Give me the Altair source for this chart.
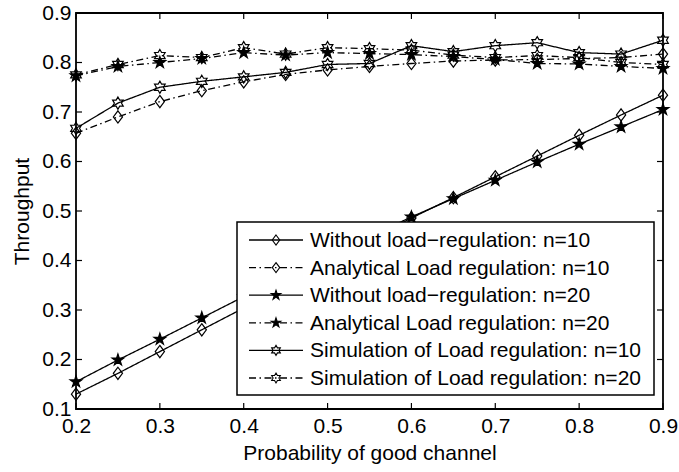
import altair as alt
import pandas as pd

# ---------------- data ----------------
x_vals = [0.20, 0.25, 0.30, 0.35, 0.40, 0.45, 0.50, 0.55, 0.60, 0.65, 0.70, 0.75, 0.80, 0.85, 0.90]

series_names = [
    "Without load\u2212regulation: n=10",
    "Analytical Load regulation: n=10",
    "Without load\u2212regulation: n=20",
    "Analytical Load regulation: n=20",
    "Simulation of Load regulation: n=10",
    "Simulation of Load regulation: n=20",
]

wo_lr_10 = [0.130, 0.172, 0.216, 0.260, 0.304, 0.350, 0.395, 0.440, 0.486, 0.527, 0.569, 0.611, 0.653, 0.694, 0.734]
an_lr_10 = [0.657, 0.690, 0.721, 0.743, 0.761, 0.776, 0.785, 0.792, 0.798, 0.803, 0.805, 0.806, 0.808, 0.810, 0.817]
wo_lr_20 = [0.155, 0.199, 0.241, 0.284, 0.327, 0.369, 0.410, 0.448, 0.488, 0.525, 0.562, 0.599, 0.635, 0.670, 0.705]
an_lr_20 = [0.773, 0.792, 0.800, 0.808, 0.820, 0.815, 0.820, 0.818, 0.816, 0.812, 0.806, 0.798, 0.797, 0.792, 0.788]
sim_lr_10 = [0.667, 0.718, 0.750, 0.762, 0.771, 0.780, 0.796, 0.798, 0.834, 0.822, 0.834, 0.840, 0.820, 0.817, 0.845]
sim_lr_20 = [0.775, 0.796, 0.814, 0.810, 0.830, 0.817, 0.830, 0.828, 0.825, 0.815, 0.810, 0.814, 0.810, 0.800, 0.796]

x_ticks = [0.2, 0.3, 0.4, 0.5, 0.6, 0.7, 0.8, 0.9]
y_ticks = [0.1, 0.2, 0.3, 0.4, 0.5, 0.6, 0.7, 0.8, 0.9]

# ---------------- styles ----------------
DIAMOND = "M0,-1L0.75,0L0,1L-0.75,0Z"
PENTA = ("M0,-1L0.225,-0.309L0.951,-0.309L0.363,0.118L0.588,0.809L0,0.382"
         "L-0.588,0.809L-0.363,0.118L-0.951,-0.309L-0.225,-0.309Z")
HEXA = ("M0,-1L0.289,-0.5L0.866,-0.5L0.577,0L0.866,0.5L0.289,0.5L0,1"
        "L-0.289,0.5L-0.866,0.5L-0.577,0L-0.866,-0.5L-0.289,-0.5Z")
SOLID = [1, 0]
DASHDOT = [7, 3.5, 1.5, 3.5]

shapes = [DIAMOND, DIAMOND, PENTA, PENTA, HEXA, HEXA]
dashes = [SOLID, DASHDOT, SOLID, DASHDOT, SOLID, DASHDOT]
fills = ["transparent", "transparent", "black", "black", "transparent", "transparent"]

FONT = "Liberation Sans"
FS = 21
W, H = 587, 396

rows = []
for name, ys in zip(series_names, [wo_lr_10, an_lr_10, wo_lr_20, an_lr_20, sim_lr_10, sim_lr_20]):
    for xv, yv in zip(x_vals, ys):
        rows.append({"p": xv, "t": yv, "series": name})
df = pd.DataFrame(rows)

xscale = alt.Scale(domain=[0.2, 0.9], nice=False, zero=False)
yscale = alt.Scale(domain=[0.1, 0.9], nice=False, zero=False)
dash_scale = alt.Scale(domain=series_names, range=dashes)
shape_scale = alt.Scale(domain=series_names, range=shapes)
fill_scale = alt.Scale(domain=series_names, range=fills)

X = alt.X("p:Q", scale=xscale,
          axis=alt.Axis(values=x_ticks, format=".1f", title="Probability of good channel"))
Y = alt.Y("t:Q", scale=yscale,
          axis=alt.Axis(values=y_ticks, format=".1f", title="Throughput"))

base = alt.Chart(df)
lines = base.mark_line(color="black", strokeWidth=1.3).encode(
    x=X, y=Y,
    strokeDash=alt.StrokeDash("series:N", scale=dash_scale, legend=None),
    detail="series:N",
)
points = base.mark_point(filled=True, stroke="black", strokeWidth=1.2, size=150, opacity=1).encode(
    x="p:Q", y="t:Q",
    shape=alt.Shape("series:N", scale=shape_scale, legend=None),
    fill=alt.Fill("series:N", scale=fill_scale, legend=None),
)

# inward ticks on all four sides
xt = alt.Chart(pd.DataFrame({"v": x_ticks}))
yt = alt.Chart(pd.DataFrame({"v": y_ticks}))
tick_style = dict(color="black", strokeWidth=1.2)
ticks = [
    xt.mark_rule(**tick_style).encode(x="v:Q", y=alt.value(0), y2=alt.value(6)),
    xt.mark_rule(**tick_style).encode(x="v:Q", y=alt.value(H), y2=alt.value(H - 6)),
    yt.mark_rule(**tick_style).encode(y="v:Q", x=alt.value(0), x2=alt.value(6)),
    yt.mark_rule(**tick_style).encode(y="v:Q", x=alt.value(W), x2=alt.value(W - 6)),
]

# legend (drawn manually, like MATLAB's)
LX0, LX1, LY0, LY1 = 161, 578, 209, 382
ROW0, STEP = 227, 27.6
leg_df = pd.DataFrame({"series": series_names, "i": list(range(len(series_names)))})
legbase = alt.Chart(leg_df).transform_calculate(py=f"{ROW0} + datum.i * {STEP}")

box = alt.Chart(pd.DataFrame({"a": [0]})).mark_rect(
    fill="white", stroke="black", strokeWidth=1.5
).encode(x=alt.value(LX0), x2=alt.value(LX1), y=alt.value(LY0), y2=alt.value(LY1))

leg_lines = legbase.mark_rule(color="black", strokeWidth=1.3).encode(
    x=alt.value(173), x2=alt.value(227),
    y=alt.Y("py:Q", scale=None),
    strokeDash=alt.StrokeDash("series:N", scale=dash_scale, legend=None),
)
leg_pts = legbase.mark_point(filled=True, stroke="black", strokeWidth=1.1, size=100, opacity=1).encode(
    x=alt.value(200),
    y=alt.Y("py:Q", scale=None),
    shape=alt.Shape("series:N", scale=shape_scale, legend=None),
    fill=alt.Fill("series:N", scale=fill_scale, legend=None),
)
leg_text = legbase.mark_text(
    align="left", baseline="middle", font=FONT, fontSize=FS, color="black", dy=1
).encode(
    x=alt.value(234),
    y=alt.Y("py:Q", scale=None),
    text="series:N",
)

chart = alt.layer(lines, points, *ticks, box, leg_lines, leg_pts, leg_text).properties(
    width=W, height=H,
    autosize=alt.AutoSizeParams(type="none"),
    padding={"left": 76, "top": 13, "right": 16, "bottom": 63},
    background="white",
).configure_view(
    stroke="black", strokeWidth=1.8
).configure_axis(
    domain=False, ticks=False, grid=False,
    labelFont=FONT, labelFontSize=FS, labelColor="black",
    titleFont=FONT, titleFontSize=FS, titleFontWeight="normal", titleColor="black",
).configure_axisX(
    labelPadding=6, titlePadding=6, labelFlush=False
).configure_axisY(
    labelPadding=5, titlePadding=9, labelFlush=False
)

chart.save("out.html", embed_options={"renderer": "svg", "actions": False})
